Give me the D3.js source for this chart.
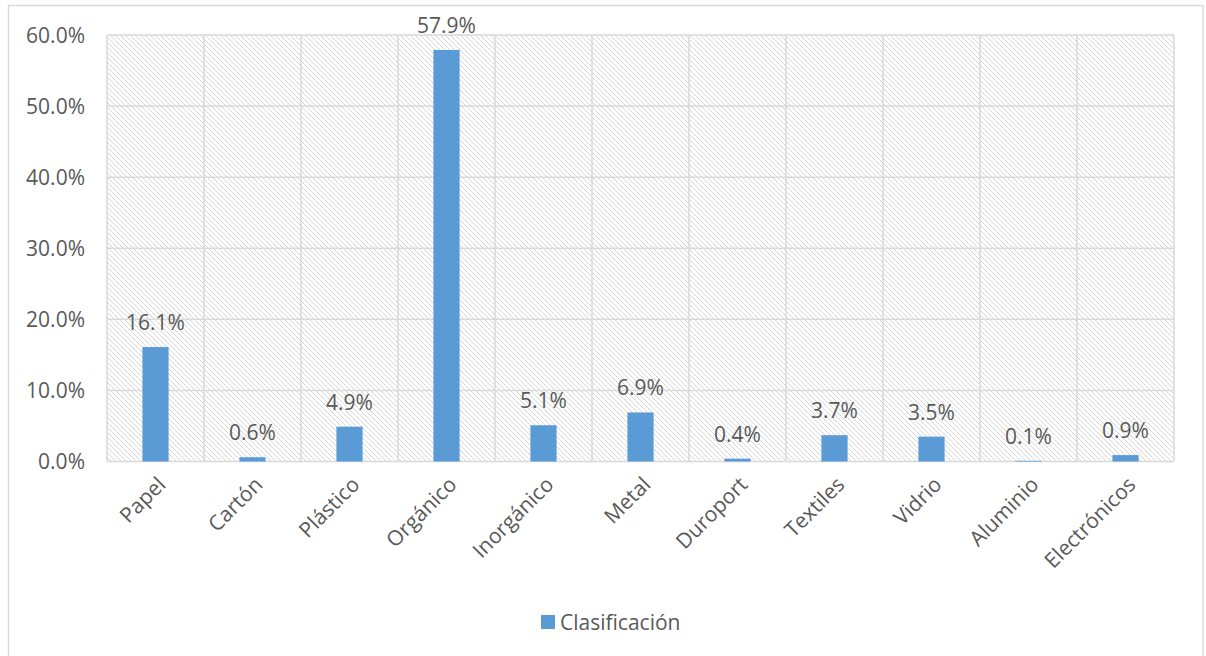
<!DOCTYPE html>
<html>
<head>
<meta charset="utf-8">
<script src="https://cdn.jsdelivr.net/npm/d3@7"></script>
<style>
  html, body { margin: 0; padding: 0; background: #fff; }
  svg { display: block; }
  text { font-family: "Open Sans", "Noto Sans", sans-serif; fill: #595959; }
</style>
</head>
<body>
<svg id="chart" width="1206" height="656"></svg>
<script>
// Waste composition by category (share of total, %)
const categories = ["Papel", "Cartón", "Plástico", "Orgánico", "Inorgánico", "Metal",
                    "Duroport", "Textiles", "Vidrio", "Aluminio", "Electrónicos"];
const values = [16.1, 0.6, 4.9, 57.9, 5.1, 6.9, 0.4, 3.7, 3.5, 0.1, 0.9];
const yTicks = [0, 10, 20, 30, 40, 50, 60];
const seriesName = "Clasificación";

const svg = d3.select("#chart");
const plot = { left: 107, top: 35, right: 1174, bottom: 461.5 };
const barColor = "#5b9bd5";
const gridColor = "#d9d9d9";
const fontSize = 21;

// outer chart frame
svg.append("rect")
  .attr("x", 8.5).attr("y", 5.5)
  .attr("width", 1194.5).attr("height", 660)
  .attr("fill", "#fff").attr("stroke", gridColor).attr("stroke-width", 1.5);

// diagonal hatch fill for the plot area
const defs = svg.append("defs");
const pat = defs.append("pattern")
  .attr("id", "hatch").attr("patternUnits", "userSpaceOnUse")
  .attr("width", 5).attr("height", 5);
pat.append("rect").attr("width", 5).attr("height", 5).attr("fill", "#fff");
pat.append("path")
  .attr("d", "M-1,-1 L6,6 M-1,4 L1,6 M4,-1 L6,1")
  .attr("stroke", "#d6d6d6").attr("stroke-width", 1.2)
  .attr("shape-rendering", "crispEdges");

const x = d3.scaleBand().domain(categories).range([plot.left, plot.right]).paddingInner(0).paddingOuter(0);
const y = d3.scaleLinear().domain([0, 60]).range([plot.bottom, plot.top]);

svg.append("rect")
  .attr("x", plot.left).attr("y", plot.top)
  .attr("width", plot.right - plot.left).attr("height", plot.bottom - plot.top)
  .attr("fill", "url(#hatch)");

// horizontal gridlines
svg.append("g").selectAll("line").data(yTicks).join("line")
  .attr("x1", plot.left).attr("x2", plot.right)
  .attr("y1", d => y(d)).attr("y2", d => y(d))
  .attr("stroke", gridColor).attr("stroke-width", 1.5);

// vertical gridlines at category boundaries
const bounds = categories.map(c => x(c)).concat([plot.right]);
svg.append("g").selectAll("line").data(bounds).join("line")
  .attr("x1", d => d).attr("x2", d => d)
  .attr("y1", plot.top).attr("y2", plot.bottom)
  .attr("stroke", gridColor).attr("stroke-width", 1.5);

// bars
const barW = x.bandwidth() * 0.27;
svg.append("g").selectAll("rect").data(categories).join("rect")
  .attr("x", (c) => x(c) + x.bandwidth() / 2 - barW / 2)
  .attr("y", (c, i) => y(values[i]))
  .attr("width", barW)
  .attr("height", (c, i) => y(0) - y(values[i]))
  .attr("fill", barColor);

// value labels
svg.append("g").selectAll("text").data(categories).join("text")
  .attr("x", c => x(c) + x.bandwidth() / 2)
  .attr("y", (c, i) => y(values[i]) - 17)
  .attr("text-anchor", "middle")
  .attr("font-size", fontSize)
  .text((c, i) => values[i].toFixed(1) + "%");

// y axis labels
svg.append("g").selectAll("text").data(yTicks).join("text")
  .attr("x", 85)
  .attr("y", d => y(d) + 7.5)
  .attr("text-anchor", "end")
  .attr("font-size", fontSize)
  .text(d => d.toFixed(1) + "%");

// category labels, rotated
svg.append("g").selectAll("text").data(categories).join("text")
  .attr("transform", c => `translate(${x(c) + x.bandwidth() / 2 + 1},${plot.bottom + 14}) rotate(-45)`)
  .attr("text-anchor", "end")
  .attr("dy", "0.7em")
  .attr("font-size", fontSize)
  .text(c => c);

// legend
const lg = svg.append("g").attr("transform", "translate(541,615)");
lg.append("rect").attr("width", 14).attr("height", 14).attr("fill", barColor);
lg.append("text").attr("x", 19).attr("y", 14.5).attr("font-size", fontSize).text(seriesName);
</script>
</body>
</html>
